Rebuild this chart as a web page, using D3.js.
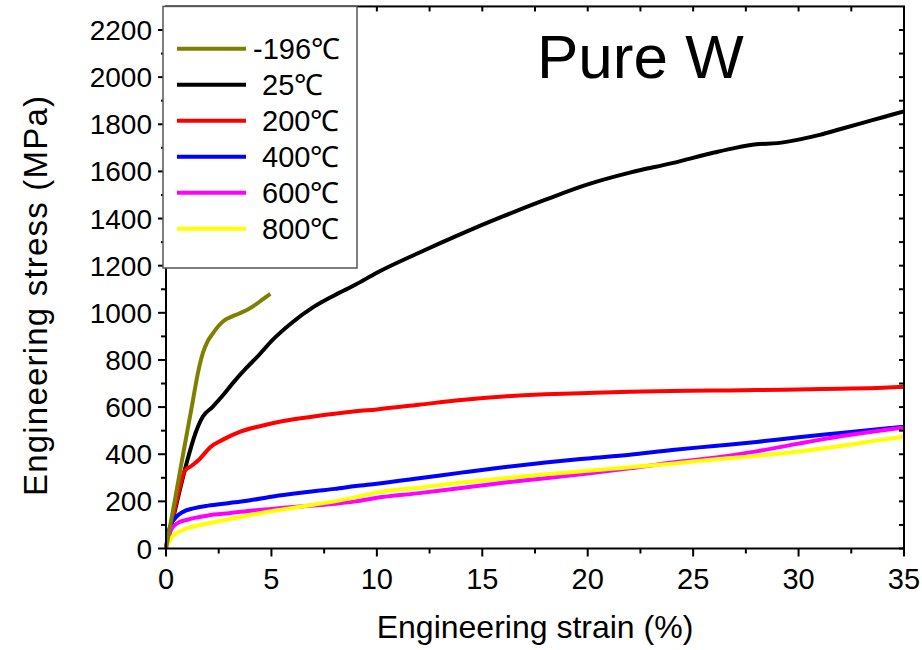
<!DOCTYPE html>
<html>
<head>
<meta charset="utf-8">
<script src="https://cdn.jsdelivr.net/npm/d3@7"></script>
<style>
  body { margin: 0; background: #fff; }
  text { font-family: Arial, "Liberation Sans", sans-serif; fill: #000; }
</style>
</head>
<body>
<div id="chart"></div>
<script>
// strain (%) / stress (MPa) pairs
var curveN196 = [[0,0],[0.4,195],[0.8,395],[1.2,590],[1.55,760],[1.75,830],[1.95,875],[2.2,910],[2.5,945],[2.8,970],[3.1,983],[3.5,998],[3.9,1015],[4.3,1038],[4.6,1058],[4.95,1080]];
var curve25 = [[0,0],[0.5,190],[1.0,370],[1.4,490],[1.75,560],[2.2,600],[2.7,650],[3.2,705],[3.8,765],[4.4,820],[5,880],[6,960],[7,1025],[8,1075],[9,1120],[10,1170],[12,1255],[14,1335],[16,1410],[18,1480],[20,1545],[22,1595],[24,1635],[26,1680],[27,1700],[28,1715],[29,1720],[30,1735],[31,1755],[32,1780],[33,1805],[34,1830],[35,1855]];
var curve200 = [[0,0],[0.3,120],[0.6,240],[0.9,330],[1.2,350],[1.6,380],[2.1,430],[2.7,462],[3.5,495],[4.5,520],[5.5,540],[7,560],[9,582],[10,590],[12,610],[14,630],[16,645],[18,654],[20,660],[22,665],[24,668],[26,670],[28,672],[30,675],[32,678],[34,682],[35,686]];
var curve400 = [[0,0],[0.1,60],[0.25,105],[0.5,135],[0.8,155],[1.3,170],[2,182],[3,193],[4,205],[5,220],[6,232],[7,243],[8,253],[9,265],[10,275],[12,298],[14,322],[16,345],[18,365],[20,382],[22,398],[24,418],[26,435],[28,452],[30,472],[32,490],[34,508],[35,517]];
var curve600 = [[0,0],[0.1,45],[0.25,80],[0.5,105],[1,122],[2,140],[3,150],[4,160],[5,168],[6,176],[7,182],[8,190],[9,200],[10,215],[12,235],[14,257],[16,279],[18,298],[20,318],[22,340],[24,365],[26,385],[28,412],[30,445],[32,476],[34,502],[35,513]];
var curve800 = [[0,0],[0.1,20],[0.25,45],[0.5,65],[1,85],[2,107],[3,125],[4,142],[5,158],[6,172],[7,186],[8,200],[9,218],[10,238],[12,258],[14,280],[16,298],[18,315],[20,330],[22,345],[24,360],[26,378],[28,393],[30,412],[32,435],[34,462],[35,475]];

var labels = ["-196\u2103", "25\u2103", "200\u2103", "400\u2103", "600\u2103", "800\u2103"];
var colors = ["#808000", "#000000", "#ff0000", "#0000ff", "#ff00ff", "#ffff00"];
var curves = [curveN196, curve25, curve200, curve400, curve600, curve800];
var drawOrder = [1, 2, 3, 4, 5, 0];

var xTicks = [0, 5, 10, 15, 20, 25, 30, 35];
var yTicks = d3.range(0, 2201, 200);

var width = 922, height = 650;

var x = d3.scaleLinear().domain([0, 35]).range([166, 904]);
var y = d3.scaleLinear().domain([0, 2200]).range([548.5, 30]);
var yTop = y(2300);

var svg = d3.select("#chart").append("svg")
    .attr("width", width)
    .attr("height", height);

var line = d3.line()
    .curve(d3.curveMonotoneX)
    .x(function(d) { return x(d[0]); })
    .y(function(d) { return y(d[1]); });

// curves
svg.append("g").selectAll("path")
    .data(drawOrder)
  .enter().append("path")
    .attr("d", function(i) { return line(curves[i]); })
    .attr("fill", "none")
    .attr("stroke", function(i) { return colors[i]; })
    .attr("stroke-width", 4)
    .attr("stroke-linejoin", "round");

// frame
svg.append("rect")
    .attr("x", x(0)).attr("y", yTop)
    .attr("width", x(35) - x(0)).attr("height", y(0) - yTop)
    .attr("fill", "none").attr("stroke", "#000").attr("stroke-width", 2);

// bottom axis
var xMinor = d3.range(2.5, 35, 5);
svg.append("g").selectAll("line").data(xTicks).enter().append("line")
    .attr("x1", x).attr("x2", x).attr("y1", y(0)).attr("y2", y(0) + 8)
    .attr("stroke", "#000").attr("stroke-width", 2);
svg.append("g").selectAll("line").data(xMinor).enter().append("line")
    .attr("x1", x).attr("x2", x).attr("y1", y(0)).attr("y2", y(0) + 5)
    .attr("stroke", "#000").attr("stroke-width", 2);
svg.append("g").selectAll("text").data(xTicks).enter().append("text")
    .attr("x", x).attr("y", 589)
    .attr("text-anchor", "middle")
    .style("font-size", "29px")
    .text(function(d) { return d; });

// top axis (inward ticks)
svg.append("g").selectAll("line").data(xTicks.concat(xMinor)).enter().append("line")
    .attr("x1", x).attr("x2", x).attr("y1", yTop).attr("y2", yTop + 5)
    .attr("stroke", "#000").attr("stroke-width", 2);

// left axis
var yMinor = d3.range(100, 2300, 200);
svg.append("g").selectAll("line").data(yTicks).enter().append("line")
    .attr("x1", x(0) - 8).attr("x2", x(0)).attr("y1", y).attr("y2", y)
    .attr("stroke", "#000").attr("stroke-width", 2);
svg.append("g").selectAll("line").data(yMinor).enter().append("line")
    .attr("x1", x(0) - 5).attr("x2", x(0)).attr("y1", y).attr("y2", y)
    .attr("stroke", "#000").attr("stroke-width", 2);
svg.append("g").selectAll("text").data(yTicks).enter().append("text")
    .attr("x", 152).attr("y", y)
    .attr("dy", "0.36em")
    .attr("text-anchor", "end")
    .style("font-size", "28px")
    .text(function(d) { return d; });

// right axis (inward ticks)
svg.append("g").selectAll("line").data(yTicks.concat(yMinor)).enter().append("line")
    .attr("x1", x(35) - 5).attr("x2", x(35)).attr("y1", y).attr("y2", y)
    .attr("stroke", "#000").attr("stroke-width", 2);

// axis titles
svg.append("text")
    .attr("x", 535).attr("y", 638)
    .attr("text-anchor", "middle")
    .style("font-size", "32px")
    .text("Engineering strain (%)");
svg.append("text")
    .attr("transform", "translate(47,296) rotate(-90)")
    .attr("text-anchor", "middle")
    .style("font-size", "33px")
    .attr("textLength", 400)
    .text("Engineering stress (MPa)");

// title
svg.append("text")
    .attr("x", 537).attr("y", 78)
    .style("font-size", "62px")
    .text("Pure W");

// legend
var legend = svg.append("g");
legend.append("rect")
    .attr("x", 163).attr("y", yTop)
    .attr("width", 194).attr("height", 268 - yTop)
    .attr("fill", "#fff").attr("stroke", "#555").attr("stroke-width", 1.5);
var item = legend.selectAll("g.item").data(labels).enter().append("g")
    .attr("class", "item")
    .attr("transform", function(d, i) { return "translate(0," + (48.7 + i * 36) + ")"; });
item.append("line")
    .attr("x1", 177).attr("x2", 246)
    .attr("stroke", function(d, i) { return colors[i]; })
    .attr("stroke-width", 4);
item.append("text")
    .attr("x", function(d, i) { return i === 0 ? 253 : 262; })
    .attr("dy", "0.36em")
    .style("font-size", "29px")
    .text(function(d) { return d; });
</script>
</body>
</html>
